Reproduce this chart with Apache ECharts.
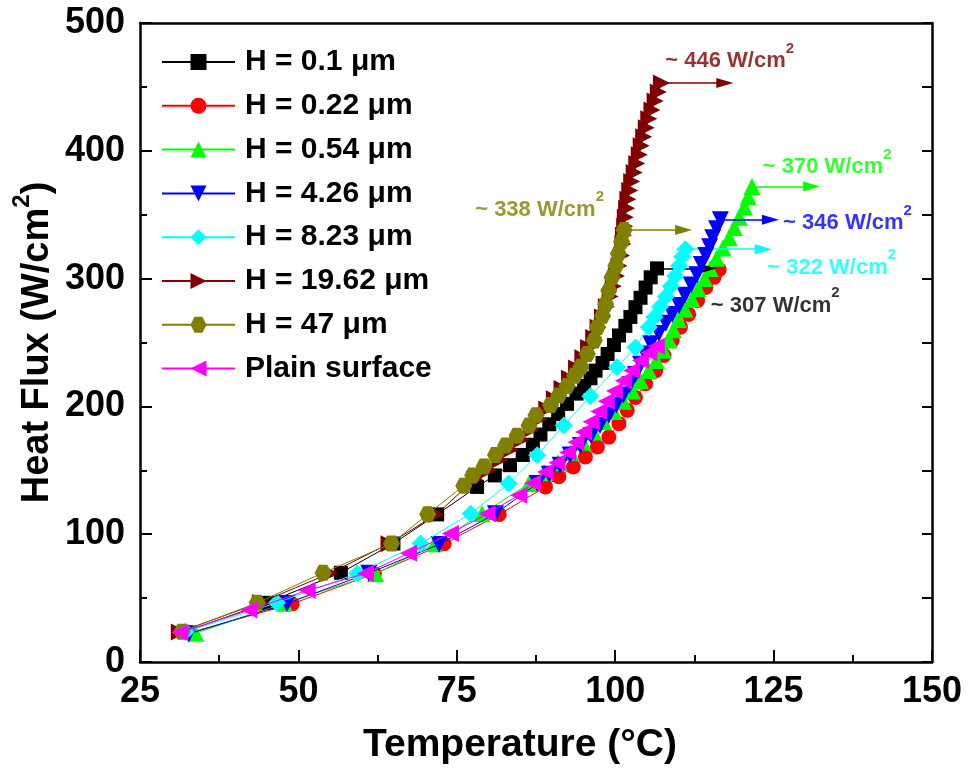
<!DOCTYPE html>
<html><head><meta charset="utf-8">
<script src="https://cdn.jsdelivr.net/npm/echarts@6/dist/echarts.min.js"></script>
<style>html,body{margin:0;padding:0;background:#fff}#c{width:970px;height:771px}</style>
</head><body><div id="c"></div>
<script>
// ---- data: [temperature (°C), heat flux (W/cm^2)] ----
const seriesNames = ['H = 0.1 μm','H = 0.22 μm','H = 0.54 μm','H = 4.26 μm','H = 8.23 μm','H = 19.62 μm','H = 47 μm','Plain surface'];
const h01 = [[32.0,23.5],[45.0,46.3],[56.7,69.8],[65.0,92.7],[71.9,115.5],[78.2,137],[81.0,146],[83.4,154],[85.4,162],[87.0,170],[88.2,178],[89.6,186],[91.0,194],[92.4,202],[93.9,210],[95.1,216],[96.1,222],[96.9,228],[98.0,234],[98.8,241],[99.8,248],[100.6,255.5],[101.6,263],[102.4,270],[103.2,277.6],[104.0,285],[104.8,293],[105.6,301],[106.6,308]];
const h022 = [[32.9,23],[49.0,45.5],[62.0,69],[73.0,92.5],[81.7,115.5],[89.0,137],[91.1,145],[93.4,152.6],[95.3,160.4],[97.2,168.2],[99.0,176],[100.6,186.5],[101.9,196.9],[103.2,207],[104.8,217.7],[106.4,228],[107.7,239.8],[109.0,251.6],[110.3,262],[111.6,272],[113.0,282.8],[114.3,293],[115.6,301],[116.4,307]];
const h054 = [[33.8,22.5],[47.8,46],[62.2,69],[71.5,92.5],[79.0,116],[86.4,139.6],[88.8,148],[91.0,156],[93.0,164],[94.9,172],[96.6,180],[98.2,188],[99.8,196],[101.3,204],[102.7,212],[104.0,220],[105.3,228],[106.5,236],[107.6,244],[108.5,252],[109.2,260],[110.0,268],[111.0,276],[112.1,284],[113.1,292],[114.1,300],[115.0,308],[116.0,316],[117.0,324],[118.0,332],[118.8,340],[119.6,348],[120.4,356],[121.0,364],[121.6,372]];
const h426 = [[32.7,22],[48.2,45.8],[61.1,69.5],[72.2,92],[81.1,116],[87.7,139.6],[89.6,147],[91.3,154],[92.9,162],[94.5,169.5],[96.2,177],[97.6,185],[99.0,193],[100.2,201],[101.3,209],[102.3,217],[103.2,225],[104.0,233],[104.7,241],[105.6,249],[106.9,257],[108.0,265],[109.0,272],[110.1,279],[111.0,287],[112.0,295],[112.9,303],[113.6,311],[114.3,318],[114.9,325],[115.4,332],[116.0,339],[116.6,346]];
const h823 = [[32.2,23.7],[46.6,46.3],[59.3,69.3],[69.3,92.7],[77.2,116],[83.2,139.6],[87.7,161.7],[91.9,185],[96.1,208],[100.3,230.7],[103.2,246],[105.3,262],[106.2,270],[107.1,278],[108.0,286],[108.8,294],[109.5,302],[110.1,310],[110.6,317],[111.1,323]];
const h1962 = [[31.2,23.5],[44.0,46.5],[55.0,69.5],[64.3,92.5],[71.8,115.5],[77.8,143],[80.0,150],[81.8,158],[83.5,166],[85.2,174],[86.8,182],[88.0,190],[89.2,198],[90.4,206],[91.6,214],[92.8,222],[93.9,230],[94.9,238],[95.8,246],[96.6,254],[97.3,262],[98.0,270],[98.6,278],[99.2,286],[99.7,294],[100.2,302],[100.6,310],[101.0,318],[101.2,327],[101.3,334],[101.5,341],[101.6,348],[101.8,355],[102.0,362],[102.3,369],[102.6,376],[103.0,383],[103.4,390],[103.8,397],[104.1,404],[104.5,411],[104.9,418],[105.3,425],[105.8,432],[106.3,439],[106.8,446],[107.3,453]];
const h47 = [[31.6,23.7],[43.5,46.3],[53.9,69.8],[64.7,92.7],[70.4,115.6],[76.1,138],[77.5,146],[79.3,153],[81.1,162],[82.7,169.5],[84.5,177],[86.4,185],[87.5,193],[89.8,201],[91.1,208.6],[92.4,216],[93.6,224],[94.6,231],[95.6,241],[96.7,251.5],[97.2,262],[98.0,271],[98.5,280],[99.0,290.6],[99.5,301],[100.1,310],[100.5,319.5],[101.0,329],[101.4,338]];
const plain = [[31.3,23],[42.2,40.6],[51.4,56],[60.6,69.3],[67.4,85],[74.0,100.5],[79.8,116],[84.8,130.5],[87.0,140],[89.0,148.7],[90.8,156],[92.5,164],[93.8,172],[95.0,180],[96.2,188],[97.4,196],[98.6,204],[99.9,212],[101.3,220],[102.6,228],[104.0,236],[105.3,242],[106.5,247]];
// arrow end temperatures (index -> series), annotation texts and their anchor points
const arrowSeries = [5, 2, 3, 4, 0, 6];
const arrowEndT = [117.3, 131.0, 124.5, 123.4, 114.6, 110.8];
const annoText = ['~ 446 W/cm', '~ 370 W/cm', '~ 346 W/cm', '~ 322 W/cm', '~ 307 W/cm', '~ 338 W/cm'];
const annoPos = [[107.9,470.3],[123.3,387],[126.5,343.2],[124.0,308.6],[115.1,279],[77.9,354]];
const xTicks = {min:25, max:150, interval:25};
const yTicks = {min:0, max:500, interval:100};

// ---- styles ----
const allData = [h01, h022, h054, h426, h823, h1962, h47, plain];
const colors = ['#000000','#ff0000','#00ff00','#0000ff','#00ffff','#800000','#808000','#ff00ff'];
const hexPath = 'path://M0,433 L250,0 L750,0 L1000,433 L750,866 L250,866 Z';
const symbols = ['rect','circle','triangle','triangle','diamond','triangle',hexPath,'triangle'];
const rotates = [0,0,0,180,0,-90,0,90];
const sizes = [14,15,17,17,18,17,[17,16],17];
const FONT = '"Liberation Sans", Arial, sans-serif';

const series = allData.map((d, i) => {
  const s = {
    name: seriesNames[i], type: 'line', data: d,
    symbol: symbols[i], symbolSize: sizes[i], symbolRotate: rotates[i],
    showSymbol: true, showAllSymbol: true,
    lineStyle: {color: colors[i], width: 1},
    itemStyle: {color: colors[i]},
    emphasis: {disabled: true}, animation: false, z: 2 + i
  };
  const k = arrowSeries.indexOf(i);
  if (k >= 0) {
    const last = d[d.length - 1];
    s.markLine = {
      silent: true, animation: false,
      symbol: ['none', 'triangle'], symbolSize: [10, 17],
      lineStyle: {color: colors[i], width: 1.5, type: 'solid', opacity: 1},
      label: {show: false}, emphasis: {disabled: true},
      data: [[{coord: [last[0], last[1]]}, {coord: [arrowEndT[k], last[1]]}]]
    };
  }
  return s;
});

series.push({
  name: 'annotations', type: 'scatter', symbolSize: 0, silent: true, animation: false, z: 20,
  data: annoText.map((t, j) => ({
    value: annoPos[j],
    label: {
      show: true, position: 'right', distance: 0,
      color: colors[arrowSeries[j]],
      formatter: '{a|' + t + '}{s|2}',
      rich: {
        a: {fontSize: 22, fontWeight: 'bold', fontFamily: FONT, lineHeight: 40},
        s: {fontSize: 15, fontWeight: 'bold', fontFamily: FONT, lineHeight: 15, verticalAlign: 'top'}
      }
    }
  }))
});

const option = {
  backgroundColor: '#ffffff',
  animation: false,
  grid: {left: 140, right: 38, top: 23, bottom: 109, outerBoundsMode: 'none', containLabel: false},
  legend: {
    data: seriesNames, orient: 'vertical', left: 161, top: 47, padding: 0,
    itemWidth: 73, itemHeight: 20, itemGap: 13.8,
    textStyle: {fontSize: 30, fontWeight: 'bold', fontFamily: FONT, color: '#000', lineHeight: 30, padding: [0,0,0,5]},
    selectedMode: false
  },
  xAxis: [{
    type: 'value', min: xTicks.min, max: xTicks.max, interval: xTicks.interval,
    name: 'Temperature (°C)', nameLocation: 'middle', nameGap: 64, nameMoveOverlap: false,
    nameTextStyle: {fontSize: 39, fontWeight: 'bold', fontFamily: FONT, color: '#000', padding: [0, 32, 0, 0]},
    axisLine: {show: true, onZero: false, lineStyle: {color: '#000', width: 2.5}},
    axisTick: {show: true, inside: true, length: 12, lineStyle: {color: '#000', width: 2}},
    minorTick: {show: true, splitNumber: 2, length: 7, lineStyle: {color: '#000', width: 2}},
    axisLabel: {fontSize: 36, fontWeight: 'bold', fontFamily: FONT, color: '#000', margin: 12},
    splitLine: {show: false}
  }, {
    type: 'value', position: 'top', min: xTicks.min, max: xTicks.max, interval: xTicks.interval,
    axisLine: {show: true, onZero: false, lineStyle: {color: '#000', width: 2.5}},
    axisTick: {show: false}, axisLabel: {show: false}, splitLine: {show: false}
  }],
  yAxis: [{
    type: 'value', min: yTicks.min, max: yTicks.max, interval: yTicks.interval,
    name: 'Heat Flux (W/cm{s|2})', nameLocation: 'middle', nameGap: 74, nameMoveOverlap: false,
    nameTextStyle: {fontSize: 38, fontWeight: 'bold', fontFamily: FONT, color: '#000', lineHeight: 56,
      rich: {s: {fontSize: 24, fontWeight: 'bold', fontFamily: FONT, lineHeight: 24, verticalAlign: 'top', color: '#000'}}},
    axisLine: {show: true, onZero: false, lineStyle: {color: '#000', width: 2.5}},
    axisTick: {show: true, inside: true, length: 12, lineStyle: {color: '#000', width: 2}},
    minorTick: {show: true, splitNumber: 2, length: 7, lineStyle: {color: '#000', width: 2}},
    axisLabel: {fontSize: 36, fontWeight: 'bold', fontFamily: FONT, color: '#000', margin: 15},
    splitLine: {show: false}
  }, {
    type: 'value', position: 'right', min: yTicks.min, max: yTicks.max, interval: yTicks.interval,
    axisLine: {show: true, onZero: false, lineStyle: {color: '#000', width: 2.5}},
    axisTick: {show: true, inside: true, length: 10, lineStyle: {color: '#000', width: 2}},
    minorTick: {show: true, splitNumber: 2, length: 10, lineStyle: {color: '#000', width: 2}},
    axisLabel: {show: false}, splitLine: {show: false}
  }],
  series: series
};
const chart = echarts.init(document.getElementById('c'), null, {renderer: 'canvas'});
chart.setOption(option);
</script>
</body></html>
